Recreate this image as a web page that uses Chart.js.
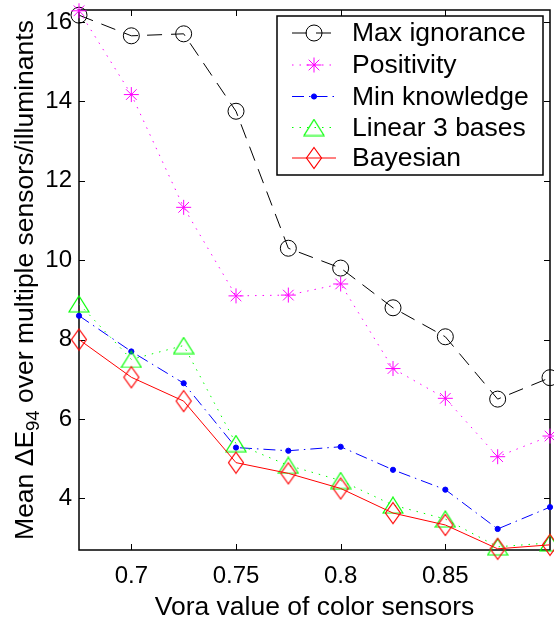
<!DOCTYPE html>
<html>
<head>
<meta charset="utf-8">
<script src="https://cdn.jsdelivr.net/npm/chart.js@4.4.1/dist/chart.umd.min.js"></script>
<style>
html, body { margin: 0; padding: 0; background: #fff; overflow: hidden; }
#wrap { width: 554px; height: 623px; overflow: hidden; }
canvas { display: block; }
</style>
</head>
<body>
<div id="wrap"><canvas id="myChart" width="560" height="623" style="width:560px;height:623px"></canvas></div>
<script>
// Vora value of color sensors
const vora = [0.675, 0.7, 0.725, 0.75, 0.775, 0.8, 0.825, 0.85, 0.875, 0.9];

const maxIgnorance = [16.17, 15.65, 15.7, 13.75, 10.3, 9.8, 8.8, 8.07, 6.5, 7.04];
const positivity   = [16.28, 14.17, 11.33, 9.1, 9.12, 9.4, 7.27, 6.52, 5.05, 5.57];
const minKnowledge = [8.6, 7.7, 6.9, 5.28, 5.2, 5.3, 4.72, 4.22, 3.23, 3.78];
const linear3      = [8.9, 7.5, 7.85, 5.38, 4.83, 4.45, 3.83, 3.48, 2.78, 2.88];
const bayesian     = [8.0, 7.05, 6.45, 4.9, 4.63, 4.25, 3.63, 3.33, 2.73, 2.83];

const seriesNames = ["Max ignorance", "Positivity", "Min knowledge", "Linear 3 bases", "Bayesian"];

const xTicks = [0.7, 0.75, 0.8, 0.85];
const yTicks = [4, 6, 8, 10, 12, 14, 16];

const FONT = "'Liberation Sans', Arial, Helvetica, sans-serif";
const BIG = '26.5px ' + FONT;

function pts(vals) {
    return vals.map((v, i) => ({ x: vora[i], y: v }));
}

// matlab-like markers
function diamondMarker(color) {
    const c = document.createElement('canvas');
    c.width = 18; c.height = 24;
    const g = c.getContext('2d');
    g.strokeStyle = color; g.lineWidth = 1.2;
    g.beginPath();
    g.moveTo(9, 1.5); g.lineTo(16.5, 12); g.lineTo(9, 22.5); g.lineTo(1.5, 12);
    g.closePath(); g.stroke();
    return c;
}
function triangleMarker(color) {
    const c = document.createElement('canvas');
    c.width = 22; c.height = 18;
    const g = c.getContext('2d');
    g.strokeStyle = color; g.lineWidth = 1.2;
    g.beginPath();
    g.moveTo(11, 1); g.lineTo(21, 17); g.lineTo(1, 17);
    g.closePath(); g.stroke();
    return c;
}

const datasets = [
    { label: seriesNames[0], data: pts(maxIgnorance), borderColor: '#000000', borderDash: [15, 9],
      pointStyle: 'circle', pointRadius: 8, pointBorderColor: '#000000', pointBackgroundColor: 'rgba(0,0,0,0)', order: 5 },
    { label: seriesNames[1], data: pts(positivity), borderColor: '#ff00ff', borderDash: [1.5, 6],
      pointStyle: 'star', pointRadius: 7.5, pointBorderColor: '#ff00ff', pointBackgroundColor: 'rgba(0,0,0,0)', order: 4 },
    { label: seriesNames[2], data: pts(minKnowledge), borderColor: '#0000ff', borderDash: [12, 5, 1.5, 5],
      pointStyle: 'circle', pointRadius: 2.6, pointBorderColor: '#0000ff', pointBackgroundColor: '#0000ff', order: 3 },
    { label: seriesNames[3], data: pts(linear3), borderColor: '#00ff00', borderDash: [1.5, 6],
      pointStyle: triangleMarker('#00ff00'), pointRadius: 9, pointBorderColor: '#00ff00', pointBackgroundColor: 'rgba(0,0,0,0)', order: 2 },
    { label: seriesNames[4], data: pts(bayesian), borderColor: '#ff0000', borderDash: [],
      pointStyle: diamondMarker('#ff0000'), pointRadius: 9, pointBorderColor: '#ff0000', pointBackgroundColor: 'rgba(0,0,0,0)', order: 1 }
];
datasets.forEach(d => {
    d.borderWidth = 1;
    d.pointBorderWidth = 1;
    d.fill = false;
    d.tension = 0;
    d.clip = false;
});

const framePlugin = {
    id: 'frame',
    beforeDatasetsDraw(chart) {
        const { ctx, chartArea: a, scales: { x, y } } = chart;
        ctx.save();
        ctx.strokeStyle = '#000';
        ctx.lineWidth = 1;
        ctx.beginPath();
        xTicks.forEach(v => {
            const px = Math.round(x.getPixelForValue(v)) + 0.5;
            ctx.moveTo(px, a.bottom); ctx.lineTo(px, a.bottom - 6);
            ctx.moveTo(px, a.top); ctx.lineTo(px, a.top + 6);
        });
        yTicks.forEach(v => {
            const py = Math.round(y.getPixelForValue(v)) + 0.5;
            ctx.moveTo(a.left, py); ctx.lineTo(a.left + 6, py);
            ctx.moveTo(a.right, py); ctx.lineTo(a.right - 6, py);
        });
        ctx.stroke();
        ctx.lineWidth = 1.5;
        ctx.strokeRect(a.left, a.top, a.right - a.left, a.bottom - a.top);
        ctx.restore();
    },
    afterDraw(chart) {
        const { ctx, chartArea: a } = chart;
        ctx.save();
        ctx.fillStyle = '#000';

        // x title
        ctx.font = BIG;
        ctx.textAlign = 'center';
        ctx.textBaseline = 'alphabetic';
        ctx.fillText('Vora value of color sensors', (a.left + a.right) / 2, 615);

        // y title with subscript
        const p1 = 'Mean \u0394E', sub = '94', p2 = ' over multiple sensors/illuminants';
        const SUB = '18.5px ' + FONT;
        ctx.font = BIG;
        const w1 = ctx.measureText(p1).width, w3 = ctx.measureText(p2).width;
        ctx.font = SUB;
        const w2 = ctx.measureText(sub).width;
        const total = w1 + w2 + w3;
        ctx.translate(32.5, (a.top + a.bottom) / 2);
        ctx.rotate(-Math.PI / 2);
        ctx.textAlign = 'left';
        let sx = -total / 2;
        ctx.font = BIG;
        ctx.fillText(p1, sx, 0);
        sx += w1;
        ctx.font = SUB;
        ctx.fillText(sub, sx, 6.5);
        sx += w2;
        ctx.font = BIG;
        ctx.fillText(p2, sx, 0);
        ctx.restore();

        // legend box
        ctx.save();
        const bx = 277, by = 16, bw = 266, bh = 159;
        ctx.fillStyle = '#fff';
        ctx.fillRect(bx, by, bw, bh);
        ctx.strokeStyle = '#000';
        ctx.lineWidth = 1.5;
        ctx.strokeRect(bx, by, bw, bh);
        const rows = [33, 65, 96.5, 127.5, 158];
        chart.data.datasets.forEach((ds, i) => {
            const ry = rows[i];
            ctx.save();
            ctx.strokeStyle = ds.borderColor;
            ctx.lineWidth = 1;
            ctx.setLineDash(ds.borderDash || []);
            ctx.beginPath();
            ctx.moveTo(292, ry); ctx.lineTo(336, ry);
            ctx.stroke();
            ctx.setLineDash([]);
            ctx.fillStyle = ds.pointBackgroundColor;
            ctx.strokeStyle = ds.pointBorderColor;
            Chart.helpers.drawPoint(ctx, { pointStyle: ds.pointStyle, radius: ds.pointRadius, rotation: 0, borderWidth: 1 }, 314, ry);
            ctx.restore();
            ctx.fillStyle = '#000';
            ctx.font = BIG;
            ctx.textAlign = 'left';
            ctx.textBaseline = 'middle';
            ctx.fillText(ds.label, 352, ry + 1);
        });
        ctx.restore();
    }
};

new Chart(document.getElementById("myChart"), {
    type: 'line',
    data: { datasets: datasets },
    options: {
        responsive: false,
        devicePixelRatio: 1,
        animation: false,
        layout: { padding: { left: 0, right: 4, top: 3, bottom: 0 } },
        plugins: { legend: { display: false }, tooltip: { enabled: false } },
        scales: {
            x: {
                type: 'linear',
                min: 0.675,
                max: 0.9,
                afterBuildTicks: s => { s.ticks = xTicks.map(v => ({ value: v })); },
                afterFit: s => { s.height = 73; s.paddingLeft = 0; s.paddingRight = 0; },
                grid: { display: false, drawTicks: false },
                border: { display: false },
                ticks: {
                    color: '#000',
                    padding: 12,
                    maxRotation: 0,
                    font: { family: FONT, size: 24 },
                    callback: v => String(v)
                }
            },
            y: {
                type: 'linear',
                min: 2.7,
                max: 16.3,
                afterBuildTicks: s => { s.ticks = yTicks.map(v => ({ value: v })); },
                afterFit: s => { s.width = 79; s.paddingTop = 0; s.paddingBottom = 0; },
                grid: { display: false, drawTicks: false },
                border: { display: false },
                ticks: {
                    color: '#000',
                    padding: 7,
                    font: { family: FONT, size: 24 },
                    callback: v => String(v)
                }
            }
        }
    },
    plugins: [framePlugin]
});
</script>
</body>
</html>
